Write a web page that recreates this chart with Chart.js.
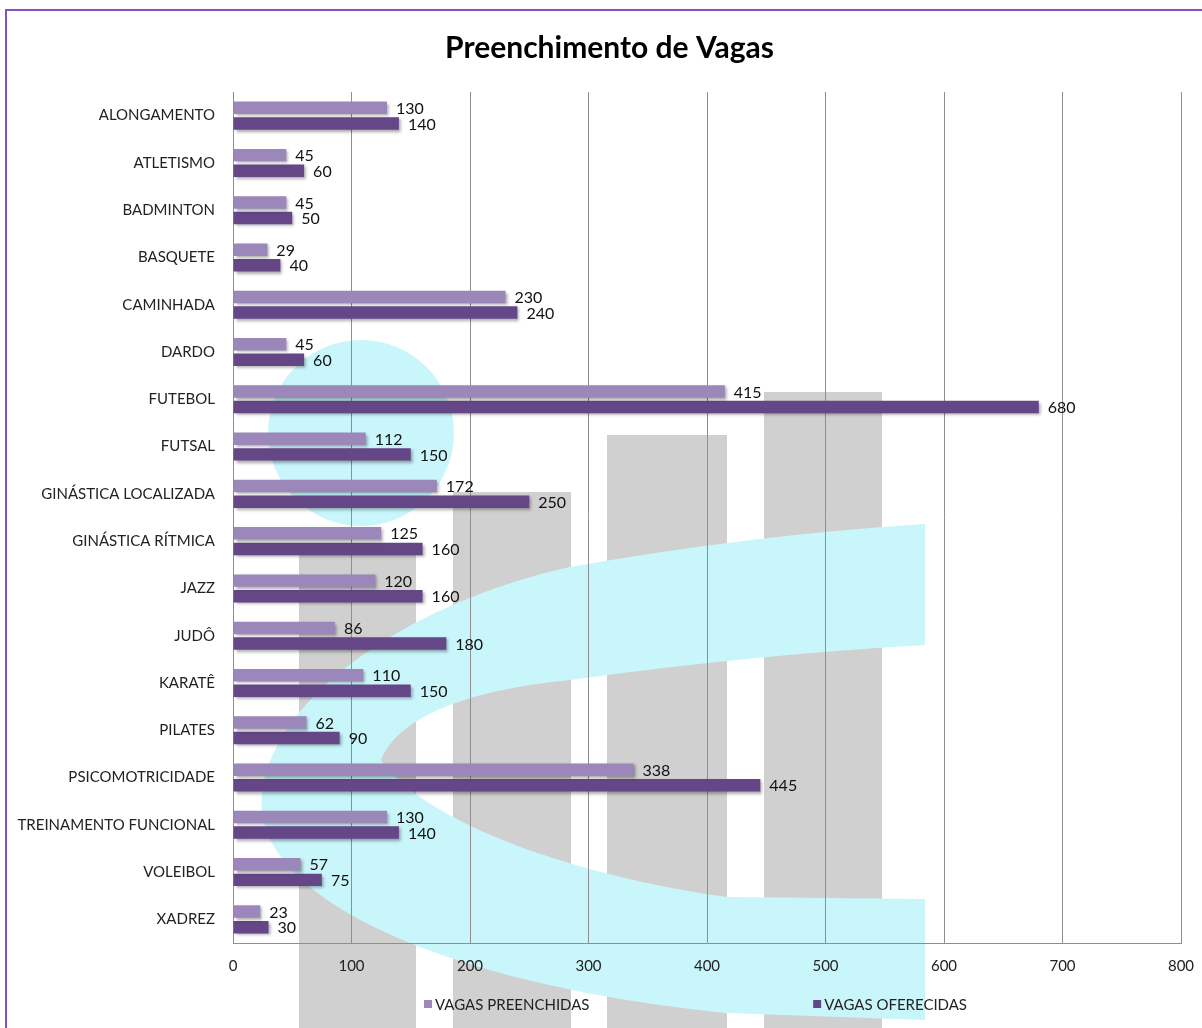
<!DOCTYPE html>
<html>
<head>
<meta charset="UTF-8">
<title>Preenchimento de Vagas</title>
<script src="https://cdn.jsdelivr.net/npm/chart.js@4"></script>
<style>
  html, body { margin: 0; padding: 0; background: #fff; }
  body { width: 1202px; height: 1028px; overflow: hidden; position: relative; }
  #chart { position: absolute; left: 0; top: 0; }
  .frame { position: absolute; left: 5px; top: 9px; width: 1230px; height: 1050px;
           border-top: 2px solid #8552c4; border-left: 2px solid #8552c4; pointer-events: none; }
</style>
</head>
<body>
<canvas id="chart" width="1202" height="1028"></canvas>
<div class="frame"></div>
<script>
const modalidades = [
  'ALONGAMENTO', 'ATLETISMO', 'BADMINTON', 'BASQUETE', 'CAMINHADA', 'DARDO',
  'FUTEBOL', 'FUTSAL', 'GINÁSTICA LOCALIZADA', 'GINÁSTICA RÍTMICA', 'JAZZ', 'JUDÔ',
  'KARATÊ', 'PILATES', 'PSICOMOTRICIDADE', 'TREINAMENTO FUNCIONAL', 'VOLEIBOL', 'XADREZ'
];
const vagasPreenchidas = [130, 45, 45, 29, 230, 45, 415, 112, 172, 125, 120, 86, 110, 62, 338, 130, 57, 23];
const vagasOferecidas = [140, 60, 50, 40, 240, 60, 680, 150, 250, 160, 160, 180, 150, 90, 445, 140, 75, 30];
const seriesNames = ['VAGAS PREENCHIDAS', 'VAGAS OFERECIDAS'];
const seriesColors = ['#9b87b9', '#654788'];
const xMin = 0, xMax = 800, xStep = 100;

const FONT = "Lato, 'Noto Sans', sans-serif";

// logo em marca d'agua no fundo (decoracao, nao e dado)
const watermark = {
  id: 'watermark',
  beforeDraw(chart) {
    const ctx = chart.ctx;
    ctx.save();
    ctx.fillStyle = '#d0d0d0';
    ctx.fillRect(299, 552, 117, 500);
    ctx.fillRect(453, 492, 118, 560);
    ctx.fillRect(607, 435, 120, 620);
    ctx.fillRect(764, 392, 118, 660);

    ctx.fillStyle = '#c9f6fb';
    ctx.beginPath();
    ctx.arc(361, 433, 93, 0, Math.PI * 2);
    ctx.fill();

    ctx.beginPath();
    ctx.moveTo(925, 524);
    ctx.quadraticCurveTo(750, 535, 570, 567);
    ctx.bezierCurveTo(420, 600, 275, 690, 262, 793);
    ctx.bezierCurveTo(250, 900, 450, 985, 727, 1013);
    ctx.lineTo(925, 1020);
    ctx.lineTo(925, 899);
    ctx.lineTo(727, 897);
    ctx.bezierCurveTo(600, 880, 430, 830, 381, 760);
    ctx.bezierCurveTo(400, 715, 470, 690, 570, 680);
    ctx.quadraticCurveTo(750, 655, 925, 645);
    ctx.closePath();
    ctx.fill();
    ctx.restore();
  }
};

// titulo um pouco a direita do centro, como no original
const titleShift = {
  id: 'titleShift',
  afterLayout(chart) {
    if (chart.titleBlock) chart.titleBlock.left += 30;
  }
};

// sombra nas barras + valores no fim de cada barra
const barDecor = {
  id: 'barDecor',
  beforeDatasetsDraw(chart) {
    const ctx = chart.ctx;
    ctx.save();
    ctx.shadowColor = 'rgba(0,0,0,0.35)';
    ctx.shadowOffsetX = 2;
    ctx.shadowOffsetY = 2;
    ctx.shadowBlur = 3;
  },
  afterDatasetsDraw(chart) {
    const ctx = chart.ctx;
    ctx.restore();
    ctx.save();
    ctx.font = '16px ' + FONT;
    ctx.fillStyle = '#111';
    ctx.textAlign = 'left';
    ctx.textBaseline = 'middle';
    chart.data.datasets.forEach((ds, i) => {
      chart.getDatasetMeta(i).data.forEach((bar, j) => {
        ctx.fillText(String(ds.data[j]), bar.x + 9, bar.y + 1);
      });
    });
    ctx.restore();
  }
};

// legenda desenhada abaixo do eixo, espalhada como no original
const bottomLegend = {
  id: 'bottomLegend',
  afterDraw(chart) {
    const ctx = chart.ctx;
    const area = chart.chartArea;
    const w = area.right - area.left;
    const starts = [0.2015, 0.612];
    const y = 1004;
    ctx.save();
    ctx.font = '15px ' + FONT;
    ctx.textBaseline = 'middle';
    ctx.textAlign = 'left';
    chart.data.datasets.forEach((ds, i) => {
      const x = area.left + starts[i] * w;
      ctx.fillStyle = ds.backgroundColor;
      ctx.fillRect(x, y - 4, 8, 8);
      ctx.fillStyle = '#222';
      ctx.fillText(ds.label, x + 11, y + 1);
    });
    ctx.restore();
  }
};

new Chart(document.getElementById('chart'), {
  type: 'bar',
  data: {
    labels: modalidades,
    datasets: [
      { label: seriesNames[0], data: vagasPreenchidas, backgroundColor: seriesColors[0],
        categoryPercentage: 0.66, barPercentage: 0.8 },
      { label: seriesNames[1], data: vagasOferecidas, backgroundColor: seriesColors[1],
        categoryPercentage: 0.66, barPercentage: 0.8 }
    ]
  },
  options: {
    indexAxis: 'y',
    responsive: false,
    animation: false,
    devicePixelRatio: 1,
    layout: { padding: { left: 8, right: 21, top: 0, bottom: 39 } },
    plugins: {
      legend: { display: false },
      tooltip: { enabled: false },
      title: {
        display: true,
        text: 'Preenchimento de Vagas',
        color: '#000',
        font: { family: FONT, size: 30, weight: 'bold' },
        padding: { top: 30, bottom: 26 }
      }
    },
    scales: {
      x: {
        min: xMin,
        max: xMax,
        ticks: { stepSize: xStep, padding: 14, color: '#222', font: { family: FONT, size: 15 } },
        grid: { color: '#8f8f8f', drawTicks: false },
        border: { color: '#8f8f8f' },
        afterFit: (scale) => { scale.paddingRight = 0; scale.paddingLeft = 0; }
      },
      y: {
        ticks: { padding: 18, color: '#222', font: { family: FONT, size: 15 } },
        grid: { display: false, drawTicks: false },
        border: { display: true, color: '#8f8f8f' },
        afterFit: (scale) => { scale.width = 225; }
      }
    }
  },
  plugins: [watermark, titleShift, barDecor, bottomLegend]
});
</script>
</body>
</html>
